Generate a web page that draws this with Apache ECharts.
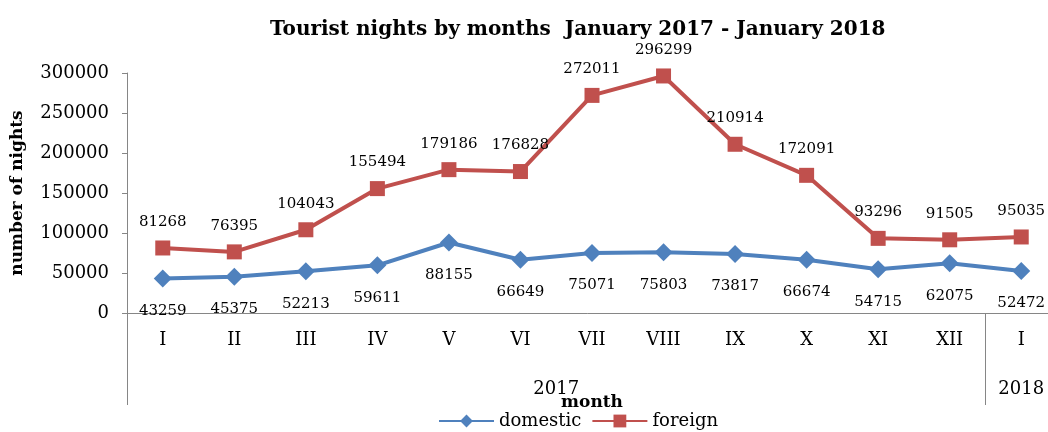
<!DOCTYPE html>
<html>
<head>
<meta charset="utf-8">
<script src="https://cdn.jsdelivr.net/npm/echarts@6/dist/echarts.min.js"></script>
<style>
html, body { margin: 0; padding: 0; background: #fff; }
#chart { width: 1048px; height: 432px; }
</style>
</head>
<body>
<div id="chart"></div>
<script>
// months on the axis, Jan 2017 - Jan 2018
var months = ["I", "II", "III", "IV", "V", "VI", "VII", "VIII", "IX", "X", "XI", "XII", "I"];
var domestic = [43259, 45375, 52213, 59611, 88155, 66649, 75071, 75803, 73817, 66674, 54715, 62075, 52472];
var foreign = [81268, 76395, 104043, 155494, 179186, 176828, 272011, 296299, 210914, 172091, 93296, 91505, 95035];
// year groups: label position (in month units) and the separators
var yearLabels = { 6: "2017", 12.5: "2018" };
var yearBounds = [0, 12, 13];

var serif = "DejaVu Serif";
var axisGrey = "#868686";

var myChart = echarts.init(document.getElementById("chart"));

var option = {
  backgroundColor: "#fff",
  animation: false,
  title: {
    text: "Tourist nights by months  January 2017 - January 2018",
    left: 265,
    top: 15,
    textStyle: {
      fontFamily: serif,
      fontWeight: "bold",
      fontSize: 20,
      color: "#000",
    },
  },
  legend: {
    left: 433,
    bottom: -3,
    itemWidth: 55,
    itemHeight: 16,
    itemGap: 10,
    textStyle: {
      fontFamily: serif,
      fontSize: 18,
      color: "#000",
    },
    data: ["domestic", "foreign"],
  },
  grid: {
    left: 127,
    top: 73,
    bottom: 119,
    width: 930,
    containLabel: false,
    outerBoundsMode: "none",
  },
  xAxis: [
    {
      type: "category",
      data: months,
      boundaryGap: true,
      axisLine: { lineStyle: { color: axisGrey, width: 1 } },
      axisTick: { show: false },
      axisLabel: {
        interval: 0,
        margin: 18,
        fontFamily: serif,
        fontSize: 18,
        color: "#000",
      },
    },
    {
      // second level: years
      type: "value",
      position: "bottom",
      min: 0,
      max: 13,
      axisLine: { show: false },
      splitLine: { show: false },
      axisTick: {
        show: true,
        customValues: yearBounds,
        length: 92,
        lineStyle: { color: axisGrey },
      },
      axisLabel: {
        customValues: [6, 12.5],
        margin: 67,
        fontFamily: serif,
        fontSize: 18,
        color: "#000",
        formatter: function (v) {
          return yearLabels[v] || "";
        },
      },
      name: "month",
      nameLocation: "middle",
      nameGap: 81,
      nameMoveOverlap: false,
      nameTextStyle: {
        fontFamily: serif,
        fontWeight: "bold",
        fontSize: 17,
        color: "#000",
      },
    },
  ],
  yAxis: {
    type: "value",
    min: 0,
    max: 300000,
    interval: 50000,
    name: "number of nights",
    nameLocation: "middle",
    nameGap: 101,
    nameTextStyle: {
      fontFamily: serif,
      fontWeight: "bold",
      fontSize: 17,
      color: "#000",
    },
    axisLine: { show: true, lineStyle: { color: axisGrey } },
    axisTick: { show: true, length: 5, lineStyle: { color: axisGrey } },
    axisLabel: {
      margin: 18,
      fontFamily: serif,
      fontSize: 18,
      color: "#000",
      formatter: function (v) {
        return String(v);
      },
    },
    splitLine: { show: false },
  },
  series: [
    {
      name: "domestic",
      type: "line",
      data: domestic,
      symbol: "diamond",
      symbolSize: 18,
      color: "#4F81BD",
      lineStyle: { width: 4, color: "#4F81BD" },
      itemStyle: { color: "#4F81BD" },
      label: {
        show: true,
        position: "bottom",
        distance: 16,
        fontFamily: serif,
        fontSize: 15,
        color: "#000",
      },
      z: 3,
    },
    {
      name: "foreign",
      type: "line",
      data: foreign,
      symbol: "rect",
      symbolSize: 15,
      color: "#C0504D",
      lineStyle: { width: 4, color: "#C0504D" },
      itemStyle: { color: "#C0504D" },
      label: {
        show: true,
        position: "top",
        distance: 11,
        fontFamily: serif,
        fontSize: 15,
        color: "#000",
      },
      z: 3,
    },
  ],
};

myChart.setOption(option);
</script>
</body>
</html>
